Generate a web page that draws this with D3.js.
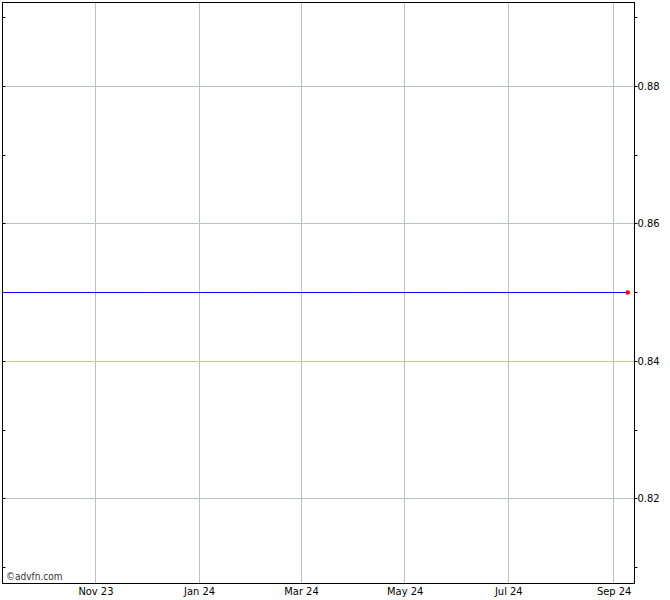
<!DOCTYPE html>
<html><head><meta charset="utf-8">
<script src="https://cdn.jsdelivr.net/npm/d3@7"></script>
<style>body{margin:0;background:#fff;}svg{display:block;font-family:Tahoma,"DejaVu Sans Condensed","Liberation Sans",Arial,sans-serif;}</style>
</head><body>
<script>
// Data
const dates = ["2023-09-07","2023-10-02","2023-11-01","2023-12-01","2024-01-02","2024-02-01","2024-03-01","2024-04-01","2024-05-01","2024-06-03","2024-07-01","2024-08-01","2024-09-03","2024-09-09"];
const prices = [0.85,0.85,0.85,0.85,0.85,0.85,0.85,0.85,0.85,0.85,0.85,0.85,0.85,0.85];
const xTickDates = ["2023-11-01","2024-01-01","2024-03-01","2024-05-01","2024-07-01","2024-09-01"];
const xTickLabels = ["Nov 23","Jan 24","Mar 24","May 24","Jul 24","Sep 24"];
const yMajorTicks = [0.82,0.84,0.86,0.88];
const yMinorTicks = [0.81,0.83,0.85,0.87,0.89];
const xDomain = ["2023-09-07","2024-09-13"];
const yDomain = [0.807636,0.892145];

const W=670,H=600;
const L=2.5,R=634.5,T=2.5,B=583.5;
const parse=d3.timeParse("%Y-%m-%d");
const svg=d3.select("body").append("svg").attr("width",W).attr("height",H);
const x=d3.scaleTime().domain(xDomain.map(parse)).range([L,R]);
const y=d3.scaleLinear().domain(yDomain).range([B,T]);

// vertical grid
svg.append("g").selectAll("line").data(xTickDates).join("line")
  .attr("x1",d=>Math.round(x(parse(d)))-0.5).attr("x2",d=>Math.round(x(parse(d)))-0.5)
  .attr("y1",T).attr("y2",B).attr("stroke","#bcc0c0").attr("stroke-width",1);
// horizontal grid
const hg=svg.append("g");
hg.selectAll("line").data(yMajorTicks).join("line")
  .attr("x1",L).attr("x2",R+2)
  .attr("y1",d=>Math.round(y(d))+0.5).attr("y2",d=>Math.round(y(d))+0.5)
  .attr("stroke",d=>d===0.84?"#c0c0a8":"#bcc0c0").attr("stroke-width",1);
hg.selectAll("line.dash").data(yMajorTicks.filter(d=>d===0.84)).join("line").attr("class","dash")
  .attr("x1",L).attr("x2",R)
  .attr("y1",d=>Math.round(y(d))+0.5).attr("y2",d=>Math.round(y(d))+0.5)
  .attr("stroke","#dcd468").attr("stroke-width",1).attr("stroke-dasharray","2,2");

// frame
svg.append("rect").attr("x",L).attr("y",T).attr("width",R-L).attr("height",B-T)
  .attr("fill","none").attr("stroke","#000").attr("stroke-width",1);

// right axis ticks
const allY=yMajorTicks.concat(yMinorTicks);
svg.append("g").selectAll("line").data(allY).join("line")
  .attr("x1",R).attr("x2",R+3)
  .attr("y1",d=>Math.round(y(d))+0.5).attr("y2",d=>Math.round(y(d))+0.5)
  .attr("stroke","#000");
// left axis inner ticks
svg.append("g").selectAll("line").data(allY).join("line")
  .attr("x1",L).attr("x2",L+3)
  .attr("y1",d=>Math.round(y(d))+0.5).attr("y2",d=>Math.round(y(d))+0.5)
  .attr("stroke","#000");

// y labels
svg.append("g").selectAll("text").data(yMajorTicks).join("text")
  .attr("x",R+3).attr("y",d=>y(d)+4).attr("font-size",11).attr("fill","#000")
  .text(d=>d.toFixed(2));
// x labels
svg.append("g").selectAll("text").data(xTickDates).join("text")
  .attr("x",d=>x(parse(d))).attr("y",595).attr("text-anchor","middle")
  .attr("font-size",11).attr("fill","#000")
  .text((d,i)=>xTickLabels[i]);

// line
const line=d3.line().x(d=>x(parse(d[0]))).y(d=>Math.round(y(d[1]))+0.5);
const pts=dates.map((d,i)=>[d,prices[i]]);
svg.append("path").datum(pts).attr("d",line).attr("fill","none").attr("stroke","#0000ff").attr("stroke-width",1);
const last=pts[pts.length-1];
svg.append("circle").attr("cx",x(parse(last[0]))).attr("cy",Math.round(y(last[1]))+0.5).attr("r",2.3).attr("fill","#ff0000");

svg.append("text").attr("x",6).attr("y",580).attr("font-size",10).attr("fill","#333").text("©advfn.com");
</script>
</body></html>
